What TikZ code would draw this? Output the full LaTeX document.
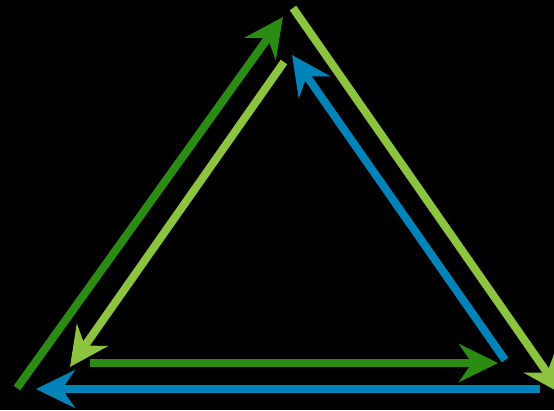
\documentclass[tikz,border=0pt]{standalone}
\usetikzlibrary{arrows.meta}
\definecolor{dg}{HTML}{2B8C13}
\definecolor{lg}{HTML}{8CC43F}
\definecolor{bl}{HTML}{0083B9}
\begin{document}
\begin{tikzpicture}[x=1pt,y=-1pt,
  arr/.style={line width=8pt, -{Stealth[length=39pt,width=38pt,inset=13pt]}}]
\fill[black] (0,0) rectangle (554,410);
\useasboundingbox (0,0) rectangle (554,410);
\clip (0,0) rectangle (554,410);
\coordinate (dgA) at (17,388);
\coordinate (dgB) at (283,17);
\coordinate (lgA) at (284,62);
\coordinate (lgB) at (70,367);
\coordinate (loA) at (293,8);
\coordinate (loB) at (562,394);
\coordinate (blA) at (505,360);
\coordinate (blB) at (292,55);
\coordinate (hgA) at (90,363);
\coordinate (hgB) at (498,363);
\coordinate (hbA) at (540,389);
\coordinate (hbB) at (36,389);
\draw[arr, dg] (dgA) -- (dgB);
\draw[arr, lg] (lgA) -- (lgB);
\draw[arr, lg] (loA) -- (loB);
\draw[arr, bl] (blA) -- (blB);
\draw[arr, dg] (hgA) -- (hgB);
\draw[arr, bl] (hbA) -- (hbB);
\end{tikzpicture}
\end{document}
